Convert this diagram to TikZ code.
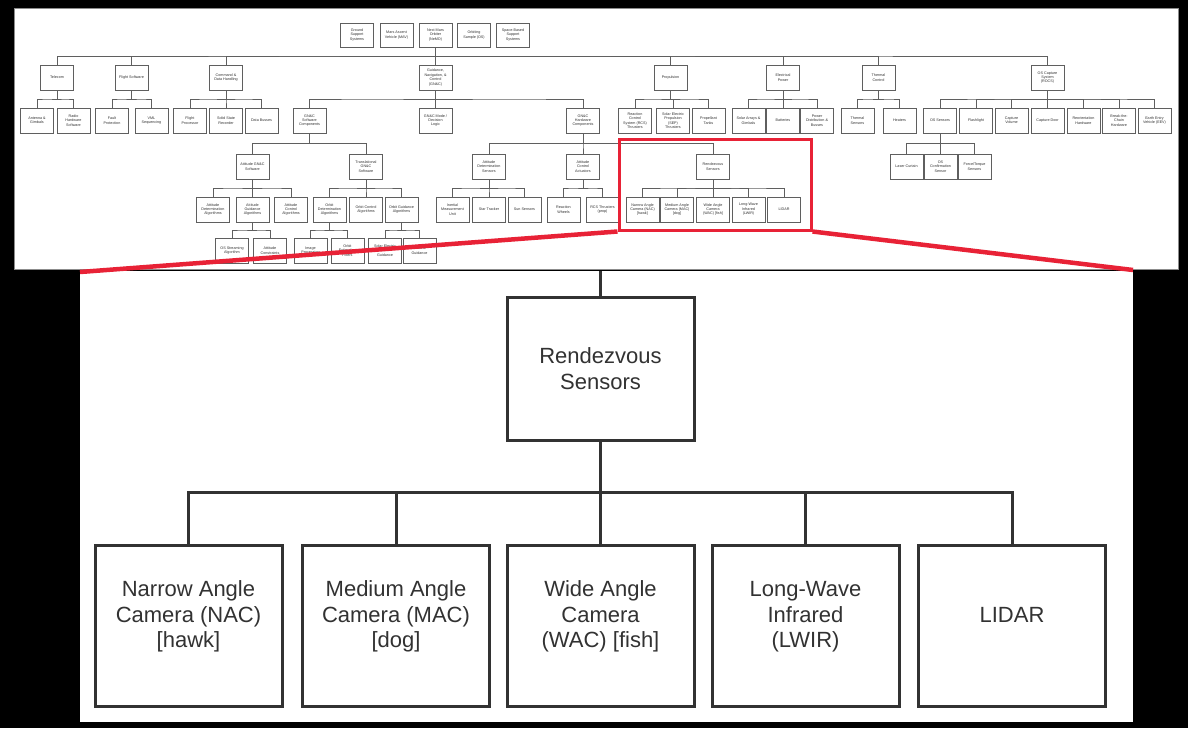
\documentclass[tikz,border=0pt]{standalone}
\usepackage{fontspec}
\setmainfont{Liberation Sans}
\usepackage{tikz}
\usetikzlibrary{calc}
\definecolor{zoomred}{RGB}{232,34,54}
\definecolor{boxgray}{RGB}{95,95,95}
\definecolor{inkgray}{RGB}{50,50,50}
\tikzset{
  sbox/.style={draw=boxgray,fill=white,line width=0.7pt,minimum width=33pt,
    minimum height=25pt,inner sep=0pt,align=center,text=inkgray,
    font=\fontsize{3.7}{4.4}\selectfont},
  link/.style={draw=boxgray,line width=0.7pt,
    to path={|- ($(\tikztostart)!.5!(\tikztotarget)$) -| (\tikztotarget)}},
  bbox/.style={draw=inkgray,fill=white,line width=3pt,minimum width=187pt,
    minimum height=161pt,inner sep=0pt,align=center,text=inkgray,
    font=\fontsize{22}{25.5}\selectfont},
  leaf/.style={bbox,text depth=22pt},
  blink/.style={link,draw=inkgray,line width=3pt},
  hilite/.style={draw=zoomred,line width=3pt}
}

\begin{document}
\begin{tikzpicture}[x=1pt,y=-1pt]
    \useasboundingbox (0,0) rectangle (1188,728);
    \fill[black] (0,0) rectangle (1188,728);
    \draw[fill=white,draw=black!45] (14,8) rectangle (1178,269);
    \fill[white] (80,271) rectangle (1133,722);

    % full breakdown
    \node[sbox,minimum height=24pt] (ground) at (357,35) {Ground\\Support\\Systems};
    \node[sbox,minimum height=24pt] (mav) at (396.5,35) {Mars Ascent\\Vehicle (MAV)};
    \node[sbox,minimum height=24pt] (nemo) at (435.5,35) {Next Mars\\Orbiter\\(NeMO)};
    \node[sbox,minimum height=24pt] (sample) at (474,35) {Orbiting\\Sample (OS)};
    \node[sbox,minimum height=24pt] (spacesup) at (513,35) {Space-Based\\Support\\Systems};

    \node[sbox] (telecom) at (57,77.5) {Telecom};
    \node[sbox] (flightsw) at (131.5,77.5) {Flight Software};
    \node[sbox] (cdh) at (226,77.5) {Command \&\\Data Handling};
    \node[sbox] (gnc) at (435.5,77.5) {Guidance,\\Navigation, \&\\Control\\(GN\&C)};
    \node[sbox] (prop) at (670.5,77.5) {Propulsion};
    \node[sbox] (elec) at (783,77.5) {Electrical\\Power};
    \node[sbox] (thermal) at (878.5,77.5) {Thermal\\Control};
    \node[sbox] (rocs) at (1047.5,77.5) {OS Capture\\System\\(ROCS)};

    \node[sbox] (antenna) at (37,120.5) {Antenna \&\\Gimbals};
    \node[sbox] (radio) at (73.5,120.5) {Radio\\Hardware\\Software};
    \node[sbox] (fault) at (112,120.5) {Fault\\Protection};
    \node[sbox] (vml) at (151.5,120.5) {VML\\Sequencing};
    \node[sbox] (fproc) at (190,120.5) {Flight\\Processor};
    \node[sbox] (ssr) at (226,120.5) {Solid State\\Recorder};
    \node[sbox] (dbus) at (261.5,120.5) {Data Busses};
    \node[sbox] (gncsw) at (309.5,120.5) {GN\&C\\Software\\Components};
    \node[sbox] (gncmode) at (435.5,120.5) {GN\&C Mode /\\Decision\\Logic};
    \node[sbox] (gnchw) at (583,120.5) {GN\&C\\Hardware\\Components};
    \node[sbox] (rcs) at (635,120.5) {Reaction\\Control\\System (RCS)\\Thrusters};
    \node[sbox] (sep) at (673,120.5) {Solar Electric\\Propulsion\\(SEP)\\Thrusters};
    \node[sbox] (tanks) at (708.5,120.5) {Propellant\\Tanks};
    \node[sbox] (solar) at (748.5,120.5) {Solar Arrays \&\\Gimbals};
    \node[sbox] (batt) at (783,120.5) {Batteries};
    \node[sbox] (pdist) at (817,120.5) {Power\\Distribution \&\\Busses};
    \node[sbox] (tsens) at (857.5,120.5) {Thermal\\Sensors};
    \node[sbox] (heaters) at (899.5,120.5) {Heaters};
    \node[sbox] (ossens) at (940,120.5) {OS Sensors};
    \node[sbox] (flash) at (976,120.5) {Flashlight};
    \node[sbox] (capvol) at (1011.5,120.5) {Capture\\Volume};
    \node[sbox] (capdoor) at (1047.5,120.5) {Capture Door};
    \node[sbox] (reor) at (1083.5,120.5) {Reorientation\\Hardware};
    \node[sbox] (btc) at (1119,120.5) {Break-the-\\Chain\\Hardware};
    \node[sbox] (eev) at (1154.5,120.5) {Earth Entry\\Vehicle (EEV)};

    \node[sbox] (attsw) at (252.5,166.5) {Attitude GN\&C\\Software};
    \node[sbox] (transsw) at (366,166.5) {Translational\\GN\&C\\Software};
    \node[sbox] (adsens) at (489,166.5) {Attitude\\Determination\\Sensors};
    \node[sbox] (acact) at (583,166.5) {Attitude\\Control\\Actuators};
    \node[sbox] (rvsmall) at (713,166.5) {Rendezvous\\Sensors};
    \node[sbox] (laser) at (906.5,166.5) {Laser Curtain};
    \node[sbox] (osconf) at (940.5,166.5) {OS\\Confirmation\\Sensor};
    \node[sbox] (ftsens) at (974.5,166.5) {Force/Torque\\Sensors};

    \node[sbox] (adalg) at (213,209.5) {Attitude\\Determination\\Algorithms};
    \node[sbox] (agalg) at (252.5,209.5) {Attitude\\Guidance\\Algorithms};
    \node[sbox] (acalg) at (291,209.5) {Attitude\\Control\\Algorithms};
    \node[sbox] (odalg) at (329.5,209.5) {Orbit\\Determination\\Algorithms};
    \node[sbox] (ocalg) at (366,209.5) {Orbit Control\\Algorithms};
    \node[sbox] (ogalg) at (401.5,209.5) {Orbit Guidance\\Algorithms};
    \node[sbox] (imu) at (452.5,209.5) {Inertial\\Measurement\\Unit};
    \node[sbox] (star) at (489,209.5) {Star Tracker};
    \node[sbox] (sun) at (524.5,209.5) {Sun Sensors};
    \node[sbox] (rwheel) at (563.5,209.5) {Reaction\\Wheels};
    \node[sbox] (rcsprop) at (602.5,209.5) {RCS Thrusters\\(prop)};
    \node[sbox] (nacsmall) at (642.5,209.5) {Narrow Angle\\Camera (NAC)\\{[hawk]}};
    \node[sbox] (macsmall) at (677,209.5) {Medium Angle\\Camera (MAC)\\{[dog]}};
    \node[sbox] (wacsmall) at (713,209.5) {Wide Angle\\Camera\\(WAC) [fish]};
    \node[sbox] (lwirsmall) at (748.5,209.5) {Long-Wave\\Infrared\\(LWIR)};
    \node[sbox] (lidarsmall) at (784,209.5) {LIDAR};

    \node[sbox] (osstream) at (232,250.5) {OS Streaming\\Algorithm};
    \node[sbox] (attcon) at (270,250.5) {Attitude\\Constraints};
    \node[sbox] (imgproc) at (310.5,250.5) {Image\\Processing};
    \node[sbox] (orbfilt) at (347.5,250.5) {Orbit\\Estimation\\Filters};
    \node[sbox] (sepguid) at (385,250.5) {Solar Electric\\Inertial\\Guidance};
    \node[sbox] (relguid) at (419.5,250.5) {Relative\\Guidance};

    \foreach \c in {telecom,flightsw,cdh,gnc,prop,elec,thermal,rocs}
      \draw[link] (nemo.south) to (\c.north);
    \foreach \c in {antenna,radio} \draw[link] (telecom.south) to (\c.north);
    \foreach \c in {fault,vml} \draw[link] (flightsw.south) to (\c.north);
    \foreach \c in {fproc,ssr,dbus} \draw[link] (cdh.south) to (\c.north);
    \foreach \c in {gncsw,gncmode,gnchw} \draw[link] (gnc.south) to (\c.north);
    \foreach \c in {rcs,sep,tanks} \draw[link] (prop.south) to (\c.north);
    \foreach \c in {solar,batt,pdist} \draw[link] (elec.south) to (\c.north);
    \foreach \c in {tsens,heaters} \draw[link] (thermal.south) to (\c.north);
    \foreach \c in {ossens,flash,capvol,capdoor,reor,btc,eev}
      \draw[link] (rocs.south) to (\c.north);
    \foreach \c in {attsw,transsw} \draw[link] (gncsw.south) to (\c.north);
    \foreach \c in {adsens,acact,rvsmall} \draw[link] (gnchw.south) to (\c.north);
    \foreach \c in {laser,osconf,ftsens} \draw[link] (ossens.south) to (\c.north);
    \foreach \c in {adalg,agalg,acalg} \draw[link] (attsw.south) to (\c.north);
    \foreach \c in {odalg,ocalg,ogalg} \draw[link] (transsw.south) to (\c.north);
    \foreach \c in {imu,star,sun} \draw[link] (adsens.south) to (\c.north);
    \foreach \c in {rwheel,rcsprop} \draw[link] (acact.south) to (\c.north);
    \foreach \c in {nacsmall,macsmall,wacsmall,lwirsmall,lidarsmall}
      \draw[link] (rvsmall.south) to (\c.north);
    \foreach \c in {osstream,attcon} \draw[link] (agalg.south) to (\c.north);
    \foreach \c in {imgproc,orbfilt} \draw[link] (odalg.south) to (\c.north);
    \foreach \c in {sepguid,relguid} \draw[link] (ogalg.south) to (\c.north);

    % zoomed part
    \coordinate (panelnw) at (80,272);
    \coordinate (panelne) at (1133,270);
    \coordinate (rvtop) at (600.5,271);
    \node[hilite,minimum width=192pt,minimum height=91pt] (frame) at (715,184.5) {};
    \draw[zoomred,line width=4.5pt] (frame.south west) -- (panelnw);
    \draw[zoomred,line width=4.5pt] (frame.south east) -- (panelne);

    \node[bbox,minimum height=143pt] (rv) at (600.5,368.5) {Rendezvous\\Sensors};
    \node[leaf] (nac) at (188.5,625.5) {Narrow Angle\\Camera (NAC)\\{[hawk]}};
    \node[leaf] (mac) at (396,625.5) {Medium Angle\\Camera (MAC)\\{[dog]}};
    \node[leaf] (wac) at (600.5,625.5) {Wide Angle\\Camera\\(WAC) [fish]};
    \node[leaf] (lwir) at (805.5,625.5) {Long-Wave\\Infrared\\(LWIR)};
    \node[leaf] (lidar) at (1012,625.5) {LIDAR};
    \draw[blink] (rvtop) -- (rv.north);
    \foreach \c in {nac,mac,wac,lwir,lidar} \draw[blink] (rv.south) to (\c.north);
  \end{tikzpicture}
\end{document}
